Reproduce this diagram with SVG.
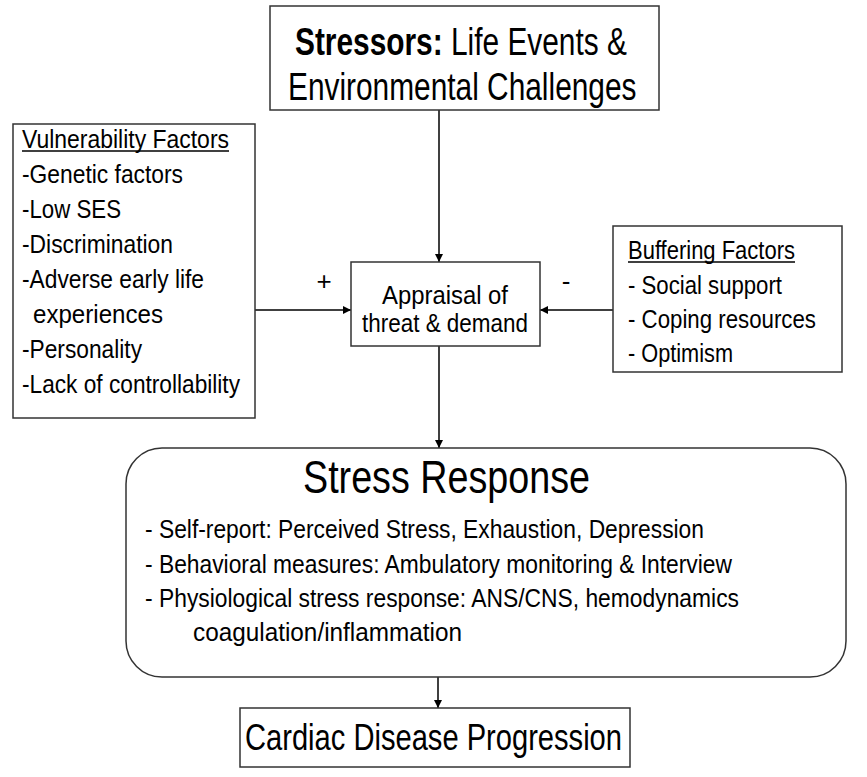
<svg xmlns="http://www.w3.org/2000/svg" width="867" height="777" viewBox="0 0 867 777">
<defs>
<marker id="ah" viewBox="0 0 10 10" refX="10" refY="5" markerWidth="8" markerHeight="8" markerUnits="userSpaceOnUse" orient="auto">
<path d="M0,0 L10,5 L0,10 z" fill="#000"/>
</marker>
<style>
.box{fill:#fff;stroke:#333;stroke-width:1.5}
.t{font-family:"Liberation Sans Narrow","Liberation Sans",Arial,sans-serif;fill:#000}
.c{stroke:#000;stroke-width:1.5;fill:none;marker-end:url(#ah)}
.u{stroke:#000;stroke-width:1.3}
</style>
</defs>
<rect width="867" height="777" fill="#fff"/>
<g id="connectors">
<line class="c" x1="439" y1="110" x2="439" y2="262"/>
<line class="c" x1="439" y1="346" x2="439" y2="448"/>
<line class="c" x1="438" y1="677" x2="438" y2="708"/>
<line class="c" x1="255" y1="310" x2="351" y2="310"/>
<line class="c" x1="613" y1="310" x2="540" y2="310"/>
<text class="t" x="324" y="290" font-size="26" text-anchor="middle">+</text>
<text class="t" x="566" y="290" font-size="26" text-anchor="middle">-</text>
</g>
<g id="stressors">
<rect class="box" x="270" y="6" width="389" height="104"/>
<text class="t" font-size="38" transform="translate(295,0) scale(0.786,1)"><tspan x="0" y="55"><tspan font-weight="bold">Stressors:</tspan> Life Events &amp;</tspan><tspan x="-8.9" y="100">Environmental Challenges</tspan></text>
</g>
<g id="vulnerability">
<rect class="box" x="13" y="124" width="242" height="294"/>
<text class="t" x="22" y="148" font-size="26" textLength="207" lengthAdjust="spacingAndGlyphs">Vulnerability Factors</text>
<line class="u" x1="22" y1="151" x2="229" y2="151"/>
<text class="t" x="22" y="183" font-size="26" textLength="161" lengthAdjust="spacingAndGlyphs">-Genetic factors</text>
<text class="t" x="22" y="218" font-size="26" textLength="99" lengthAdjust="spacingAndGlyphs">-Low SES</text>
<text class="t" x="22" y="253" font-size="26" textLength="151" lengthAdjust="spacingAndGlyphs">-Discrimination</text>
<text class="t" x="22" y="288" font-size="26" textLength="182" lengthAdjust="spacingAndGlyphs">-Adverse early life</text>
<text class="t" x="33" y="323" font-size="26" textLength="130" lengthAdjust="spacingAndGlyphs">experiences</text>
<text class="t" x="22" y="358" font-size="26" textLength="120" lengthAdjust="spacingAndGlyphs">-Personality</text>
<text class="t" x="22" y="393" font-size="26" textLength="218" lengthAdjust="spacingAndGlyphs">-Lack of controllability</text>
</g>
<g id="appraisal">
<rect class="box" x="351" y="262" width="189" height="84"/>
<text class="t" x="445" y="304" font-size="26" text-anchor="middle" textLength="126" lengthAdjust="spacingAndGlyphs">Appraisal of</text>
<text class="t" x="445" y="332" font-size="26" text-anchor="middle" textLength="166" lengthAdjust="spacingAndGlyphs">threat &amp; demand</text>
</g>
<g id="buffering">
<rect class="box" x="613" y="226" width="229" height="146"/>
<text class="t" x="628" y="259" font-size="26" textLength="167" lengthAdjust="spacingAndGlyphs">Buffering Factors</text>
<line class="u" x1="628" y1="262" x2="795" y2="262"/>
<text class="t" x="628" y="294" font-size="26" textLength="154" lengthAdjust="spacingAndGlyphs">- Social support</text>
<text class="t" x="628" y="328" font-size="26" textLength="188" lengthAdjust="spacingAndGlyphs">- Coping resources</text>
<text class="t" x="628" y="362" font-size="26" textLength="105" lengthAdjust="spacingAndGlyphs">- Optimism</text>
</g>
<g id="stress-response">
<rect class="box" x="126" y="448" width="720" height="229" rx="36" ry="36"/>
<text class="t" x="303" y="493" font-size="47" textLength="287" lengthAdjust="spacingAndGlyphs">Stress Response</text>
<text class="t" x="145" y="538" font-size="25" textLength="559" lengthAdjust="spacingAndGlyphs">- Self-report: Perceived Stress, Exhaustion, Depression</text>
<text class="t" x="145" y="573" font-size="25" textLength="587" lengthAdjust="spacingAndGlyphs">- Behavioral measures: Ambulatory monitoring &amp; Interview</text>
<text class="t" x="145" y="607" font-size="25" textLength="594" lengthAdjust="spacingAndGlyphs">- Physiological stress response: ANS/CNS, hemodynamics</text>
<text class="t" x="193" y="641" font-size="25" textLength="269" lengthAdjust="spacingAndGlyphs">coagulation/inflammation</text>
</g>
<g id="cardiac">
<rect class="box" x="240" y="708" width="390" height="59"/>
<text class="t" x="245" y="750" font-size="37" textLength="377" lengthAdjust="spacingAndGlyphs">Cardiac Disease Progression</text>
</g>
</svg>
